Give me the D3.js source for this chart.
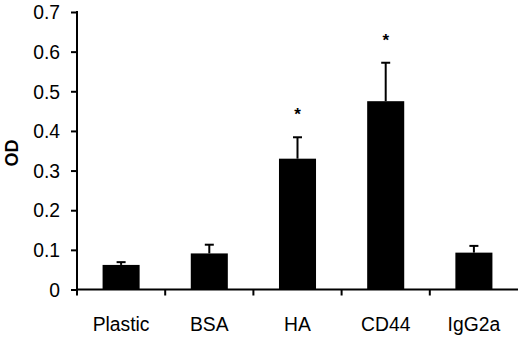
<!DOCTYPE html>
<html><head><meta charset="utf-8">
<script src="https://cdn.jsdelivr.net/npm/d3@7"></script>
<style>body{margin:0;background:#fff}svg{display:block}</style>
</head><body>
<svg id="c" width="520" height="338"></svg>
<script>
const categories = ["Plastic","BSA","HA","CD44","IgG2a"];
const values = [0.062, 0.091, 0.33, 0.475, 0.093];
const errors = [0.007, 0.022, 0.054, 0.097, 0.017];
const significant = [false, false, true, true, false];
const yTicks = [0,0.1,0.2,0.3,0.4,0.5,0.6,0.7];
const yLabel = "OD";

const svg = d3.select("#c");
const m = {l:77, r:2, t:12, b:48.5};
const W = 520, H = 338;
const x = d3.scaleBand().domain(categories).range([m.l, W-m.r]).paddingInner(0.58).paddingOuter(0.29);
const y = d3.scaleLinear().domain([0,0.7]).range([H-m.b, m.t]);
const font = "'Liberation Sans', Arial, sans-serif";
const sx = 0.92;

// bars
svg.selectAll("rect.bar").data(categories).join("rect")
  .attr("x", d=>x(d)).attr("width", x.bandwidth())
  .attr("y", (d,i)=>y(values[i])).attr("height",(d,i)=>y(0)-y(values[i]))
  .attr("fill","#000");

// error bars
const eg = svg.append("g").attr("stroke","#000").attr("stroke-width",2);
categories.forEach((c,i)=>{
  const cx = x(c)+x.bandwidth()/2;
  eg.append("line").attr("x1",cx).attr("x2",cx).attr("y1",y(values[i])).attr("y2",y(values[i]+errors[i]));
  eg.append("line").attr("x1",cx-4.5).attr("x2",cx+4.5).attr("y1",y(values[i]+errors[i])).attr("y2",y(values[i]+errors[i]));
  if (significant[i]) {
    svg.append("text").attr("x",cx).attr("y",y(values[i]+errors[i])-17)
      .attr("text-anchor","middle").attr("font-family",font).attr("font-size",17).attr("font-weight","bold")
      .text("*");
  }
});

// y axis
const ya = svg.append("g").attr("transform",`translate(${m.l},0)`)
  .call(d3.axisLeft(y).tickValues(yTicks).tickFormat(d=>d===0?"0":d3.format(".1f")(d)).tickSize(6).tickPadding(11));
ya.select(".domain").attr("d",`M0,${y(0)}V${m.t-1}`);
ya.selectAll(".tick text").attr("x",-17/sx).attr("transform",`scale(${sx},1)`);
// x axis
const xa = svg.append("g").attr("transform",`translate(0,${y(0)})`)
  .call(d3.axisBottom(x).tickSize(0).tickPadding(27));
xa.select(".domain").attr("d",`M${m.l},0H${W-m.r}`);
xa.selectAll(".tick text").attr("transform",`scale(${sx},1)`);
const edges = categories.map(c=>x(c)-x.step()*x.paddingInner()/2);
xa.selectAll("line.edge").data(edges).join("line").attr("class","edge")
  .attr("x1",d=>d).attr("x2",d=>d).attr("y1",0).attr("y2",6).attr("stroke","#000").attr("stroke-width",2);

svg.selectAll(".domain, .tick line").attr("stroke","#000").attr("stroke-width",2);
svg.selectAll(".tick text").attr("font-family",font).attr("font-size",21).attr("fill","#000");

svg.append("text").attr("transform",`translate(18,153) rotate(-90)`)
  .attr("text-anchor","middle").attr("font-family",font).attr("font-weight","bold").attr("font-size",18).text(yLabel);
</script>
</body></html>
